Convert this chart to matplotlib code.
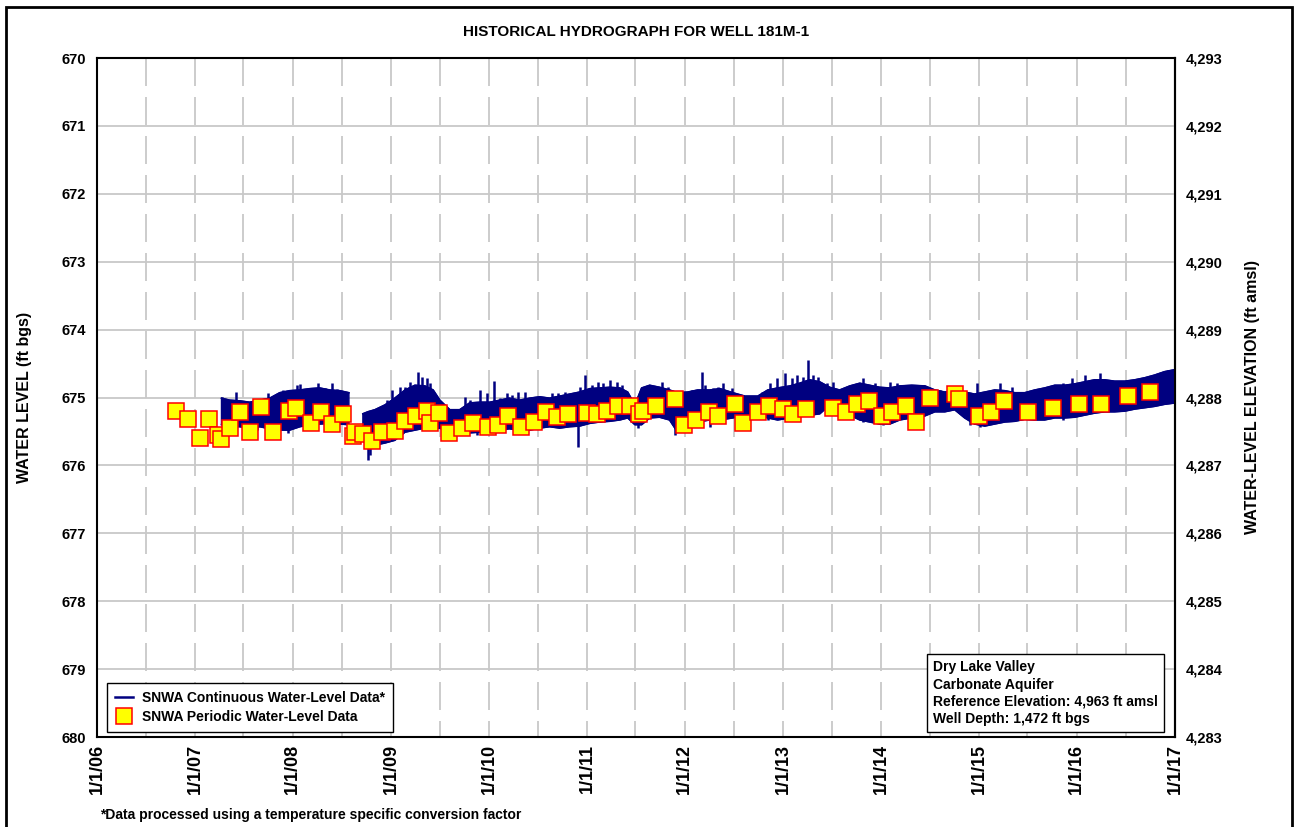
import numpy as np
import pandas as pd
import matplotlib
matplotlib.use("Agg")
import matplotlib.pyplot as plt
import matplotlib.dates as mdates
from matplotlib.patches import Rectangle
from matplotlib.lines import Line2D
from matplotlib.ticker import FuncFormatter, MultipleLocator, FixedLocator

plt.rcParams['font.family'] = ['Liberation Sans', 'DejaVu Sans']
plt.rcParams['font.weight'] = 'bold'

REF_ELEV = 4963

# continuous record, read as the band of the trace (top / bottom, ft bgs)
cont_dates = [
    "2007-04-10", "2007-05-11", "2007-06-18", "2007-07-24", "2007-08-31", "2007-10-07",
    "2007-11-13", "2007-12-20", "2008-01-27", "2008-03-04", "2008-04-10", "2008-05-18",
    "2008-06-24", "2008-07-28", "2008-08-20",
    "2008-09-18", "2008-10-07", "2008-11-02", "2008-12-09", "2009-01-15", "2009-02-22",
    "2009-03-31", "2009-05-07", "2009-06-07", "2009-07-02", "2009-08-08", "2009-09-14",
    "2009-10-21", "2009-11-28", "2010-01-04", "2010-02-10", "2010-03-18", "2010-04-25",
    "2010-06-02", "2010-07-09", "2010-08-15", "2010-09-22", "2010-10-29", "2010-12-05",
    "2011-01-12", "2011-02-18", "2011-03-27", "2011-05-04", "2011-06-02", "2011-06-29",
    "2011-07-24", "2011-08-23", "2011-09-29", "2011-11-05", "2011-12-05", "2012-01-12",
    "2012-02-18", "2012-04-03", "2012-05-11", "2012-06-28", "2012-08-12", "2012-09-29",
    "2012-11-05", "2012-12-12", "2013-01-27", "2013-03-04", "2013-04-10", "2013-05-18",
    "2013-06-24", "2013-07-31", "2013-09-07", "2013-10-14", "2013-11-20", "2013-12-27",
    "2014-02-03", "2014-03-12", "2014-04-26", "2014-06-14", "2014-07-21", "2014-08-27",
    "2014-10-03", "2014-11-09", "2014-12-16", "2015-01-23", "2015-03-01", "2015-04-08",
    "2015-05-15", "2015-06-21", "2015-07-28", "2015-09-03", "2015-10-11", "2015-11-17",
    "2015-12-24", "2016-01-30", "2016-03-07", "2016-04-14", "2016-05-21", "2016-06-28",
    "2016-08-04", "2016-09-10", "2016-10-17", "2016-11-23", "2017-01-01",
]
cont_top = [
    675.01, 675.04, 675.05, 675.07, 675.04, 675.01,
    674.93, 674.90, 674.89, 674.87, 674.86, 674.89,
    674.90, 674.93, np.nan,
    675.24, 675.21, 675.18, 675.11, 675.01, 674.89,
    674.82, 674.83, 674.89, 675.04, 675.18, 675.18,
    675.08, 675.07, 675.07, 675.04, 675.01, 675.04,
    675.01, 674.99, 675.01, 674.98, 674.95, 674.92,
    674.87, 674.86, 674.85, 674.86, 674.92, 675.11,
    674.86, 674.82, 674.85, 674.89, 674.93, 674.92,
    674.89, 674.89, 674.87, 674.93, 674.98, 674.98,
    674.89, 674.86, 674.83, 674.79, 674.74, 674.77,
    674.85, 674.89, 674.83, 674.79, 674.82, 674.85,
    674.86, 674.83, 674.82, 674.83, 674.89, 674.92,
    674.90, 674.92, 674.95, 674.92, 674.89, 674.90,
    674.93, 674.93, 674.89, 674.86, 674.82, 674.82,
    674.80, 674.77, 674.74, 674.74, 674.76, 674.76,
    674.74, 674.71, 674.67, 674.62, 674.59,
]
cont_bot = [
    675.40, 675.42, 675.43, 675.45, 675.43, 675.46,
    675.48, 675.48, 675.43, 675.40, 675.39, 675.38,
    675.39, 675.40, np.nan,
    675.63, 675.72, 675.70, 675.67, 675.63, 675.51,
    675.48, 675.45, 675.45, 675.45, 675.52, 675.55,
    675.52, 675.51, 675.48, 675.48, 675.46, 675.48,
    675.48, 675.45, 675.43, 675.45, 675.43, 675.42,
    675.38, 675.36, 675.35, 675.33, 675.30, 675.40,
    675.40, 675.30, 675.29, 675.33, 675.51, 675.48,
    675.36, 675.33, 675.33, 675.30, 675.26, 675.24,
    675.30, 675.33, 675.30, 675.27, 675.26, 675.24,
    675.11, 675.07, 675.26, 675.33, 675.36, 675.39,
    675.39, 675.33, 675.30, 675.27, 675.21, 675.21,
    675.18, 675.30, 675.39, 675.42, 675.39, 675.36,
    675.35, 675.32, 675.33, 675.33, 675.30, 675.30,
    675.29, 675.26, 675.23, 675.21, 675.21, 675.20,
    675.17, 675.15, 675.13, 675.10, 675.08,
]

# single readings sticking out of the band (decimal year, ft bgs)
spike_year = [
    2007.28, 2007.31, 2007.42, 2007.74, 2007.90, 2007.94, 2008.04, 2008.07, 2008.15,
    2008.26, 2008.33, 2008.40, 2008.45, 2008.52, 2008.96, 2009.01, 2009.09, 2009.14,
    2009.19, 2009.28, 2009.32, 2009.37, 2009.40, 2009.47, 2009.76, 2009.81, 2009.91,
    2009.98, 2010.05, 2010.11, 2010.18, 2010.24, 2010.30, 2010.37, 2010.44, 2010.64,
    2010.70, 2010.78, 2010.86, 2010.93, 2010.98, 2011.05, 2011.11, 2011.16, 2011.23,
    2011.31, 2011.36, 2011.61, 2011.69, 2011.77, 2011.83, 2011.93, 2012.07, 2012.17,
    2012.20, 2012.29, 2012.34, 2012.39, 2012.48, 2012.79, 2012.87, 2012.94, 2013.02,
    2013.09, 2013.14, 2013.20, 2013.26, 2013.31, 2013.36, 2013.45, 2013.51, 2013.70,
    2013.82, 2013.89, 2013.94, 2014.02, 2014.09, 2014.16, 2014.22, 2014.32, 2014.43,
    2014.50, 2014.60, 2014.84, 2014.98, 2015.13, 2015.21, 2015.34, 2015.40, 2015.62,
    2015.70, 2015.80, 2015.86, 2015.95, 2016.00, 2016.08, 2016.16, 2016.24, 2016.31,
    2016.41, 2016.47, 2016.57, 2016.67, 2016.75, 2016.87, 2016.93, 2016.98,
    # downward readings
    2007.63, 2007.95, 2008.77, 2008.79, 2009.88, 2010.27, 2010.91, 2011.52, 2011.90,
    2012.26, 2012.85, 2013.82, 2014.02, 2014.91, 2015.01, 2015.86, 2016.41,
]
spike_tip = [
    674.99, 675.02, 674.92, 674.93, 674.89, 674.92, 674.82, 674.80, 674.93,
    674.79, 674.86, 674.79, 674.87, 674.92, 675.04, 674.89, 674.85, 674.85,
    674.77, 674.62, 674.70, 674.71, 674.79, 675.07, 674.99, 675.04, 674.89,
    674.93, 674.76, 675.01, 674.93, 674.96, 674.92, 674.92, 674.99, 674.93,
    674.93, 674.92, 674.96, 674.85, 674.67, 674.82, 674.77, 674.79, 674.74,
    674.77, 674.82, 674.92, 674.85, 674.77, 674.85, 674.93, 674.89, 674.62,
    674.82, 674.86, 674.85, 674.79, 674.86, 674.92, 674.79, 674.71, 674.64,
    674.71, 674.67, 674.70, 674.45, 674.67, 674.70, 674.79, 674.77, 674.82,
    674.71, 674.85, 674.79, 674.85, 674.77, 674.79, 674.85, 674.89, 674.85,
    674.89, 674.89, 674.92, 674.79, 674.89, 674.79, 674.85, 674.92, 674.93,
    674.86, 674.85, 674.79, 674.71, 674.79, 674.67, 674.74, 674.64, 674.79,
    674.77, 674.85, 674.74, 674.79, 674.71, 674.62, 674.59, 674.59,
    675.48, 675.52, 675.92, 675.85, 675.55, 675.51, 675.73, 675.45, 675.55,
    675.43, 675.33, 675.36, 675.40, 675.40, 675.43, 675.33, 675.18,
]

# periodic (manual) measurements, ft bgs
per_dates = [
    "2006-10-22", "2006-12-05", "2007-01-19", "2007-02-22", "2007-03-27", "2007-04-08",
    "2007-05-11", "2007-06-18", "2007-07-24", "2007-09-04", "2007-10-18", "2007-12-17",
    "2008-01-12", "2008-03-08", "2008-04-15", "2008-05-26", "2008-07-06", "2008-08-12",
    "2008-08-20", "2008-09-19", "2008-10-22", "2008-11-28", "2009-01-15", "2009-02-22",
    "2009-04-04", "2009-05-15", "2009-05-26", "2009-06-29", "2009-08-05", "2009-09-22",
    "2009-11-02", "2009-12-28", "2010-02-03", "2010-03-12", "2010-04-30", "2010-06-17",
    "2010-07-31", "2010-09-10", "2010-10-22", "2011-01-01", "2011-02-07", "2011-03-16",
    "2011-04-26", "2011-06-10", "2011-07-13", "2011-07-28", "2011-09-14", "2011-11-24",
    "2011-12-28", "2012-02-11", "2012-03-30", "2012-05-03", "2012-07-05", "2012-08-04",
    "2012-09-29", "2012-11-09", "2013-01-01", "2013-02-07", "2013-03-27", "2013-07-06",
    "2013-08-23", "2013-10-03", "2013-11-17", "2014-01-05", "2014-02-11", "2014-04-04",
    "2014-05-11", "2014-07-02", "2014-10-03", "2014-10-18", "2015-01-01", "2015-02-14",
    "2015-04-04", "2015-07-02", "2015-10-03", "2016-01-08", "2016-03-30", "2016-07-08",
    "2016-09-29",
]
per_level = [
    675.20, 675.32, 675.60, 675.32, 675.55, 675.61,
    675.45, 675.21, 675.51, 675.14, 675.51, 675.20,
    675.15, 675.38, 675.21, 675.39, 675.24, 675.57,
    675.51, 675.54, 675.64, 675.51, 675.49, 675.35,
    675.27, 675.20, 675.38, 675.23, 675.52, 675.45,
    675.38, 675.43, 675.40, 675.27, 675.43, 675.36,
    675.21, 675.29, 675.24, 675.23, 675.24, 675.20,
    675.13, 675.13, 675.24, 675.20, 675.13, 675.02,
    675.40, 675.33, 675.21, 675.27, 675.10, 675.38,
    675.21, 675.13, 675.17, 675.24, 675.17, 675.15,
    675.21, 675.10, 675.05, 675.27, 675.21, 675.13,
    675.36, 675.01, 674.95, 675.02, 675.27, 675.21,
    675.05, 675.21, 675.15, 675.10, 675.10, 674.98,
    674.92,
]

elev_ticks = [4283, 4284, 4285, 4286, 4287, 4288, 4289, 4290, 4291, 4292, 4293]

info_lines = ["Dry Lake Valley", "Carbonate Aquifer",
              "Reference Elevation: 4,963 ft amsl", "Well Depth: 1,472 ft bgs"]


def year_to_date(y):
    y = np.asarray(y)
    base = pd.Timestamp('2006-01-01')
    return base + pd.to_timedelta((y - 2006.0) * 365.25, unit='D')


cd = pd.to_datetime(cont_dates)
sd = year_to_date(spike_year)
pdt = pd.to_datetime(per_dates)
top = np.array(cont_top)
bot = np.array(cont_bot)

fig = plt.figure(figsize=(12.95, 8.27), dpi=100)
ax = fig.add_axes([97 / 1295, 1 - 737 / 827, 1078 / 1295, 679 / 827])

navy = '#000080'
grey = '#c8c8c8'

# grid: solid every foot, dashed every half year (drawn from the top down)
ax.set_ylim(680, 670)
ax.set_xlim(pd.Timestamp('2006-01-01'), pd.Timestamp('2017-01-01'))
ax.yaxis.set_major_locator(MultipleLocator(1))
ax.grid(axis='y', color=grey, lw=1.3, zorder=0)
half_years = pd.date_range('2006-07-01', '2016-12-31', freq='6MS')
ax.vlines(half_years, 670, 680, colors=grey, lw=1.3,
          linestyles=[(0, (15.5, 6.1))], zorder=0)

ok = ~np.isnan(top)
mid = np.interp(mdates.date2num(sd), mdates.date2num(cd[ok]), ((top + bot) / 2)[ok])
ax.vlines(sd, spike_tip, mid, color=navy, lw=1.8, zorder=3)
ax.fill_between(cd, top, bot, color=navy, lw=1.0, zorder=3)
ax.plot(cd, top, color=navy, lw=1.2, zorder=3)
ax.plot(cd, bot, color=navy, lw=1.2, zorder=3)

ax.plot(pdt, per_level, 's', ms=11, mfc='yellow', mec='red', mew=1.1,
        ls='none', zorder=4)

ax.set_ylim(680, 670)
ax.set_xlim(pd.Timestamp('2006-01-01'), pd.Timestamp('2017-01-01'))
ax.xaxis.set_major_locator(mdates.YearLocator())
ax.xaxis.set_major_formatter(FuncFormatter(
    lambda v, p: '1/1/' + mdates.num2date(v).strftime('%y')))
ax.tick_params(axis='y', length=0, labelsize=10.5, pad=8)
ax.tick_params(axis='x', length=0, labelsize=13, pad=5, rotation=90)
for lab in ax.get_xticklabels() + ax.get_yticklabels():
    lab.set_fontweight('bold')
for s in ax.spines.values():
    s.set_linewidth(1.5)
    s.set_zorder(5)

ax.set_ylabel('WATER LEVEL (ft bgs)', fontsize=11.5, fontweight='bold', labelpad=21)
ax.set_title('HISTORICAL HYDROGRAPH FOR WELL 181M-1', fontsize=11,
             fontweight='bold', pad=16)

sec = ax.secondary_yaxis('right', functions=(lambda d: REF_ELEV - d,
                                             lambda e: REF_ELEV - e))
sec.yaxis.set_major_locator(FixedLocator(elev_ticks))
sec.yaxis.set_major_formatter(FuncFormatter(lambda v, p: f'{v:,.0f}'))
sec.tick_params(length=0, labelsize=10.5, pad=8)
for lab in sec.get_yticklabels():
    lab.set_fontweight('bold')
sec.set_ylabel('WATER-LEVEL ELEVATION (ft amsl)', fontsize=11.5,
               fontweight='bold', labelpad=16)
sec.spines['right'].set_linewidth(1.5)

handles = [Line2D([], [], color=navy, lw=1.8),
           Line2D([], [], marker='s', ms=11, mfc='yellow', mec='red',
                  mew=1.1, ls='none')]
leg = ax.legend(handles, ['SNWA Continuous Water-Level Data*',
                          'SNWA Periodic Water-Level Data'],
                loc='lower left', bbox_to_anchor=(0.0093, 0.0075), borderaxespad=0,
                fancybox=False, framealpha=1, edgecolor='black',
                prop={'weight': 'bold', 'size': 10},
                handlelength=1.3, handletextpad=0.6, labelspacing=0.32,
                borderpad=0.6)
leg.get_frame().set_linewidth(1.0)
leg.set_zorder(6)

ax.text(0.7755, 0.016, '\n'.join(info_lines), transform=ax.transAxes,
        ha='left', va='bottom', fontsize=10, fontweight='bold', linespacing=1.3,
        zorder=6, bbox=dict(boxstyle='square,pad=0.45', fc='white', ec='black', lw=1.0))

fig.text(100 / 1295, 1 - 815 / 827,
         '*Data processed using a temperature specific conversion factor',
         fontsize=10, fontweight='bold', va='center', ha='left')

fig.patches.append(Rectangle((6 / 1295, -0.01), 1286 / 1295, 1 - 7 / 827 + 0.01,
                             transform=fig.transFigure, fill=False,
                             ec='black', lw=2))

fig.savefig('out.png', dpi=100)
